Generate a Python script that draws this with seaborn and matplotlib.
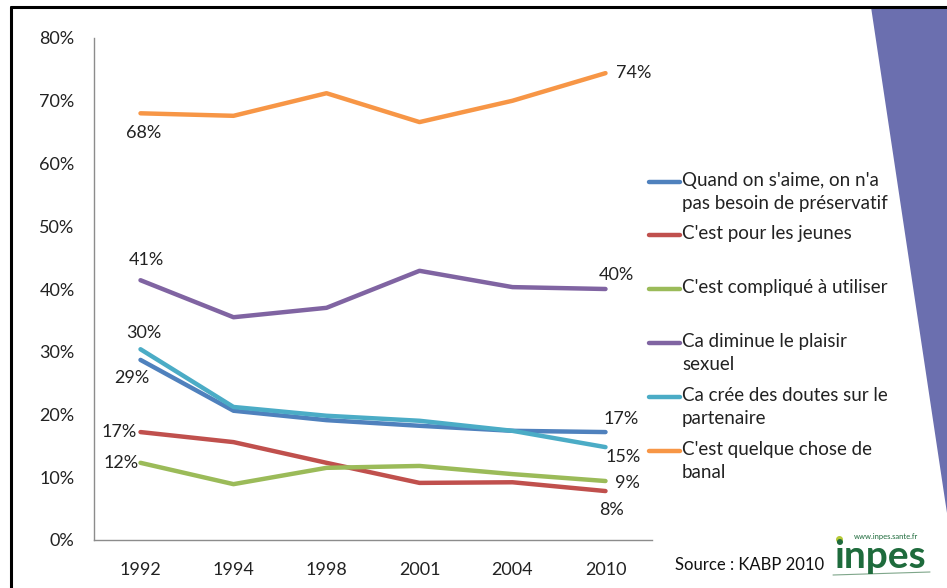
import matplotlib
matplotlib.use("Agg")
import matplotlib.pyplot as plt
from matplotlib.lines import Line2D
from matplotlib.patches import Polygon
import seaborn as sns
import pandas as pd

# data
years = ["1992", "1994", "1998", "2001", "2004", "2010"]
series_names = [
    "Quand on s'aime, on n'a\npas besoin de préservatif",
    "C'est pour les jeunes",
    "C'est compliqué à utiliser",
    "Ca diminue le plaisir\nsexuel",
    "Ca crée des doutes sur le\npartenaire",
    "C'est quelque chose de\nbanal",
]
quand_on_saime = [28.7, 20.6, 19.1, 18.2, 17.4, 17.2]
pour_les_jeunes = [17.2, 15.6, 12.3, 9.1, 9.2, 7.8]
complique = [12.3, 8.9, 11.5, 11.8, 10.5, 9.4]
diminue_plaisir = [41.4, 35.5, 37.0, 42.9, 40.3, 40.0]
doutes_partenaire = [30.4, 21.2, 19.8, 19.0, 17.4, 14.8]
banal = [68.0, 67.6, 71.2, 66.6, 70.0, 74.4]
all_values = [quand_on_saime, pour_les_jeunes, complique,
              diminue_plaisir, doutes_partenaire, banal]

colors = ["#4F81BD", "#C0504D", "#9BBB59", "#8064A2", "#4BACC6", "#F79646"]

rows = []
for name, vals in zip(series_names, all_values):
    for i, v in enumerate(vals):
        rows.append({"pos": i, "serie": name, "val": v})
df = pd.DataFrame(rows)

sns.set_style("white")
plt.rcParams["font.family"] = ["Lato", "DejaVu Sans"]

W, H = 947, 588
fig = plt.figure(figsize=(W / 100, H / 100), dpi=100)

# decorative purple band on the right
band = Polygon([(871 / W, 1 - 7 / H), (1.0, 1 - 7 / H), (1.0, 1 - 513 / H), (945 / W, 1 - 500 / H)],
               closed=True, transform=fig.transFigure, facecolor="#6B6FAF", edgecolor="none", zorder=0)
fig.patches.append(band)
# black frame on top and left
fig.add_artist(Line2D([11 / W, 1.0], [1 - 7 / H, 1 - 7 / H], color="black", lw=2.2))
fig.add_artist(Line2D([11 / W, 11 / W], [0, 1 - 7 / H], color="black", lw=2.2))

ax = fig.add_axes([94 / W, (H - 540) / H, (652 - 94) / W, (540 - 38) / H])
ax.set_facecolor("none")
sns.lineplot(data=df, x="pos", y="val", hue="serie", palette=colors,
             hue_order=series_names, linewidth=3.2, legend=False, ax=ax)

ax.set_xlim(-0.5, len(years) - 0.5)
ax.set_ylim(0, 80)
ax.set_xticks(range(len(years)))
ax.set_xticklabels(years)
ax.set_yticks(range(0, 81, 10))
ax.set_yticklabels([f"{t}%" for t in range(0, 81, 10)])
ax.set_xlabel("")
ax.set_ylabel("")
ax.tick_params(axis="both", length=0, labelsize=13, colors="#222222")
ax.tick_params(axis="y", pad=14)
ax.tick_params(axis="x", pad=16)
for s in ["top", "right"]:
    ax.spines[s].set_visible(False)
for s in ["left", "bottom"]:
    ax.spines[s].set_color("#8C8C8C")
    ax.spines[s].set_linewidth(1.0)

# data labels: (series index, point index, dx, dy) in pixels
label_spots = [
    (5, 0, 3, -20), (5, 5, 28, 0),
    (3, 0, 6, 20), (3, 5, 11, 14),
    (4, 0, 3, 16), (0, 0, -9, -18),
    (1, 0, -21, 0), (2, 0, -19, 0),
    (0, 5, 16, 13), (4, 5, 18, -10),
    (2, 5, 22, -2), (1, 5, 6, -19),
]
for si, pi, dx, dy in label_spots:
    v = all_values[si][pi]
    ax.annotate(f"{round(v)}%", xy=(pi, v), xytext=(dx, dy), textcoords="offset pixels",
                ha="center", va="center", fontsize=13, color="#222222")

# legend drawn by hand to keep Excel-like layout
leg_y = [182, 235, 289, 343, 397, 451]
for name, c, y in zip(series_names, colors, leg_y):
    fig.add_artist(Line2D([649 / W, 680 / W], [1 - y / H, 1 - y / H], color=c, lw=3.2))
    fig.text(682 / W, 1 - (y - 10) / H, name, ha="left", va="top", fontsize=13.5,
             color="#222222", linespacing=1.4)

fig.text(675 / W, 1 - 565 / H, "Source : KABP 2010", ha="left", va="center",
         fontsize=12, color="#111111")

# inpes logo
fig.text(880 / W, 1 - 557 / H, "inpes", ha="center", va="center", fontsize=28,
         fontweight="bold", color="#1E6B3C")
fig.text(886 / W, 1 - 536 / H, "www.inpes.sante.fr", ha="center", va="center",
         fontsize=5.5, color="#1E6B3C")
fig.add_artist(Line2D([839 / W], [1 - 539 / H], marker="o", color="#B5C936", markersize=4))
fig.add_artist(Line2D([833 / W, 930 / W], [1 - 575 / H, 1 - 572 / H], color="#7FA68A", lw=0.8))

fig.savefig("out.png", dpi=100)
